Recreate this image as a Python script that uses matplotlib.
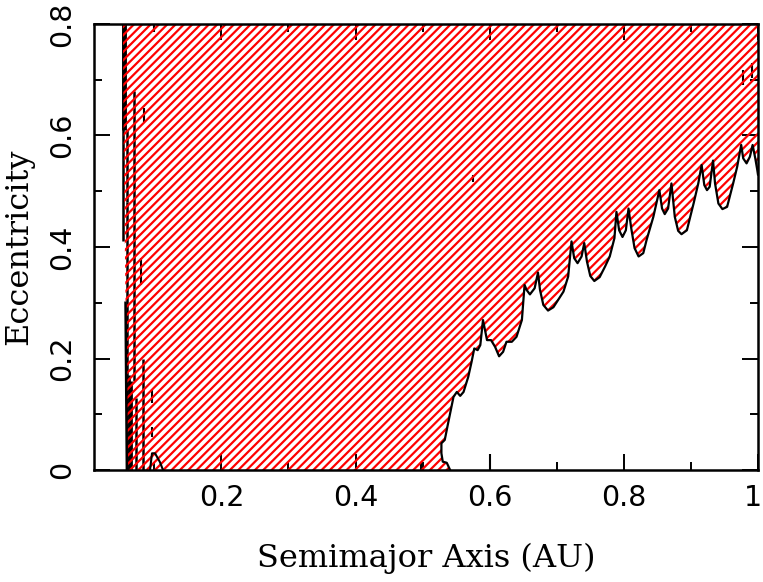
import numpy as np
import matplotlib.pyplot as plt
from matplotlib.transforms import ScaledTranslation

plt.rcParams['hatch.linewidth'] = 1.6

# outer stability boundary (semimajor axis in AU, eccentricity)
edge_a = [0.541, 0.536, 0.530, 0.528, 0.528, 0.533, 0.538, 0.546, 0.551, 0.556,
          0.561, 0.568, 0.573, 0.577, 0.582, 0.586, 0.590, 0.596, 0.602, 0.608,
          0.614, 0.620, 0.625, 0.633, 0.640, 0.648, 0.652, 0.655, 0.660, 0.667,
          0.672, 0.675, 0.680, 0.687, 0.695, 0.702, 0.710, 0.717, 0.722, 0.726,
          0.731, 0.737, 0.741, 0.745, 0.750, 0.756, 0.764, 0.772, 0.779, 0.786,
          0.789, 0.793, 0.798, 0.803, 0.807, 0.811, 0.816, 0.822, 0.829, 0.834,
          0.844, 0.853, 0.857, 0.861, 0.866, 0.871, 0.876, 0.881, 0.886, 0.894,
          0.904, 0.911, 0.916, 0.920, 0.924, 0.928, 0.933, 0.936, 0.941, 0.947,
          0.954, 0.963, 0.969, 0.975, 0.978, 0.983, 0.988, 0.992, 0.996, 0.999,
          1.000]
edge_e = [0.000, 0.013, 0.015, 0.030, 0.048, 0.054, 0.084, 0.131, 0.140, 0.133,
          0.140, 0.167, 0.194, 0.218, 0.215, 0.224, 0.269, 0.233, 0.233, 0.221,
          0.204, 0.212, 0.230, 0.230, 0.239, 0.269, 0.332, 0.323, 0.315, 0.326,
          0.354, 0.323, 0.296, 0.286, 0.292, 0.305, 0.320, 0.347, 0.410, 0.380,
          0.371, 0.383, 0.407, 0.374, 0.348, 0.339, 0.346, 0.365, 0.383, 0.416,
          0.463, 0.430, 0.418, 0.430, 0.469, 0.434, 0.398, 0.383, 0.389, 0.413,
          0.454, 0.502, 0.469, 0.459, 0.469, 0.514, 0.454, 0.429, 0.423, 0.430,
          0.478, 0.514, 0.547, 0.511, 0.502, 0.508, 0.555, 0.514, 0.478, 0.468,
          0.472, 0.514, 0.544, 0.583, 0.559, 0.550, 0.562, 0.583, 0.559, 0.538,
          0.530]

# inner edge of the unstable zone
inner_a = [0.059, 0.058, 0.057, 0.0545, 0.053]
inner_e = [0.0, 0.15, 0.3, 0.55, 0.8]

# stray contour pieces (vertical streaks)
streak_a = [0.0530, 0.0545, 0.0585, 0.0590, 0.0690, 0.0830, 0.0845, 0.0800,
            0.0965, 0.0965, 0.0995, 0.575, 0.4975, 0.600, 0.978, 0.9906,
            0.0625, 0.0655, 0.0720]
streak_top = [0.80, 0.80, 0.61, 0.48, 0.68, 0.20, 0.649, 0.380,
              0.144, 0.077, 0.80, 0.529, 0.013, 0.029, 0.717, 0.730,
              0.17, 0.16, 0.13]
streak_bot = [0.41, 0.61, 0.48, 0.0, 0.16, 0.0, 0.624, 0.332,
              0.120, 0.059, 0.786, 0.517, 0.0, 0.0, 0.690, 0.703,
              0.0, 0.0, 0.0]
streak_lw = [1.8, 3.5, 1.8, 1.8, 1.8, 1.8, 1.5, 1.5,
             1.5, 1.5, 1.5, 1.5, 1.5, 1.5, 1.5, 1.5,
             2.0, 2.0, 1.8]

# little bump at the bottom
bump_a = [0.0935, 0.0965, 0.101, 0.1084, 0.1129]
bump_e = [0.0, 0.030, 0.030, 0.014, 0.0]

x_ticks = [0.2, 0.4, 0.6, 0.8, 1.0]
x_labels = ['0.2', '0.4', '0.6', '0.8', '1']
y_ticks = [0.0, 0.2, 0.4, 0.6, 0.8]
y_labels = ['0', '0.2', '0.4', '0.6', '0.8']

fig = plt.figure(figsize=(7.63, 5.82), dpi=100)
ax = fig.add_axes([0.1232, 0.1924, 0.8702, 0.7664])

# unstable region: hatched polygon
poly_a = inner_a + [1.0] + edge_a[::-1]
poly_e = inner_e + [0.8] + edge_e[::-1]
ax.fill(poly_a, poly_e, facecolor='none', edgecolor='red', hatch='////', lw=0, zorder=2)

ax.plot(edge_a, edge_e, color='black', lw=1.6, zorder=3)
ax.plot(inner_a[:3], inner_e[:3], color='black', lw=1.8, zorder=3)
ax.vlines(streak_a, streak_bot, streak_top, colors='black', linewidths=streak_lw, zorder=1)
ax.plot(bump_a, bump_e, color='black', lw=1.5, zorder=3)

ax.set_xlim(0.01, 1.0)
ax.set_ylim(0.0, 0.8)
ax.set_xticks(x_ticks)
ax.set_xticklabels(x_labels)
ax.set_yticks(y_ticks)
ax.set_yticklabels(y_labels, rotation=90, va='center')
ax.set_xticks(np.arange(0.1, 1.0, 0.2), minor=True)
ax.set_yticks(np.arange(0.1, 0.8, 0.2), minor=True)

ax.tick_params(which='both', direction='in', top=True, right=True, width=1.4)
ax.tick_params(which='major', length=11.5, labelsize=20.5)
ax.tick_params(axis='x', pad=10)
ax.tick_params(axis='y', pad=13)
ax.tick_params(which='minor', length=5.8)
for s in ax.spines.values():
    s.set_linewidth(1.8)

# keep the "1" at the right edge inside the canvas
last = ax.get_xticklabels()[-1]
last.set_transform(last.get_transform() + ScaledTranslation(-0.05, 0, fig.dpi_scale_trans))

ax.set_xlabel('Semimajor Axis (AU)', fontsize=23, family='DejaVu Serif', labelpad=22)
ax.set_ylabel('Eccentricity', fontsize=23, family='DejaVu Serif', labelpad=10)

fig.savefig('out.png', dpi=100)
